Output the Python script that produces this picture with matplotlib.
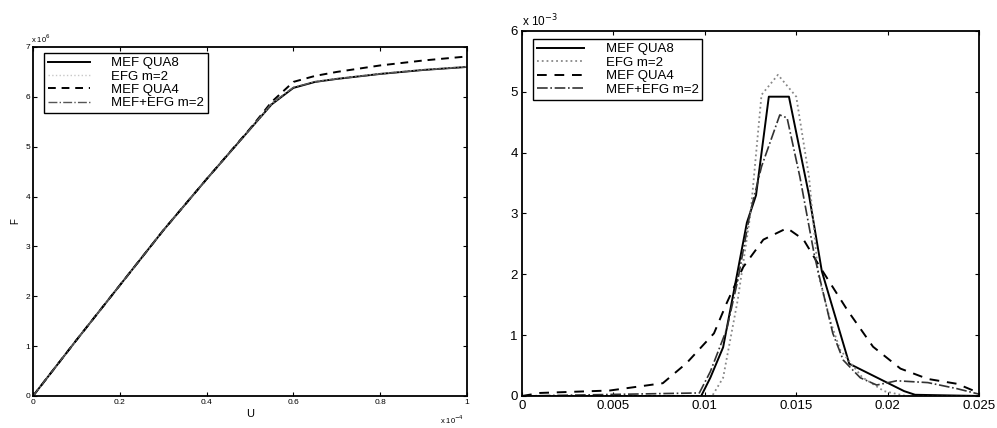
import matplotlib
matplotlib.use('Agg')
import matplotlib.pyplot as plt
import numpy as np

plt.rcParams['font.family'] = ['Liberation Sans', 'DejaVu Sans']

# left panel: force F (x1e6) vs displacement U (x1e-4)
u_left = [0, 0.1, 0.2, 0.3, 0.4, 0.5, 0.55, 0.6, 0.65, 0.7, 0.8, 0.9, 1.0]
f_qua8 = [0, 1.12, 2.22, 3.32, 4.35, 5.35, 5.85, 6.18, 6.30, 6.36, 6.46, 6.54, 6.60]
f_efg = [0, 1.12, 2.22, 3.32, 4.35, 5.35, 5.86, 6.20, 6.31, 6.37, 6.47, 6.55, 6.61]
f_qua4 = [0, 1.12, 2.22, 3.32, 4.35, 5.36, 5.90, 6.30, 6.42, 6.50, 6.63, 6.73, 6.81]
f_mix = [0, 1.12, 2.22, 3.32, 4.35, 5.35, 5.87, 6.19, 6.30, 6.36, 6.46, 6.54, 6.60]

# right panel: distributions (x1e-3)
x_qua8 = [0, 0.0098, 0.0103, 0.0110, 0.0117, 0.0123, 0.0128, 0.0135, 0.0146, 0.0157,
          0.0164, 0.0179, 0.0209, 0.0215, 0.025]
v_qua8 = [0, 0, 0.30, 0.80, 1.90, 2.85, 3.30, 4.92, 4.92, 3.30, 2.05, 0.53, 0.08, 0.02, 0]

x_efg = [0, 0.0104, 0.0110, 0.0118, 0.0125, 0.0131, 0.0140, 0.0150, 0.0157, 0.0162,
         0.0169, 0.0174, 0.0186, 0.0198, 0.0210, 0.025]
v_efg = [0, 0, 0.30, 1.58, 3.00, 4.95, 5.28, 4.92, 3.60, 2.00, 1.20, 0.76, 0.31, 0.08, 0, 0]

x_qua4 = [0, 0.0010, 0.0048, 0.0077, 0.0090, 0.0105, 0.0112, 0.0121, 0.0132, 0.0145,
          0.0154, 0.0163, 0.0178, 0.0192, 0.0207, 0.0222, 0.0238, 0.025]
v_qua4 = [0, 0.05, 0.09, 0.21, 0.54, 1.03, 1.53, 2.12, 2.57, 2.76, 2.57, 2.12, 1.41,
          0.81, 0.45, 0.28, 0.20, 0.05]

x_mix = [0, 0.0097, 0.0103, 0.0112, 0.0118, 0.01247, 0.0131, 0.0141, 0.0145, 0.0152,
         0.0160, 0.0170, 0.01757, 0.0185, 0.0194, 0.0205, 0.0222, 0.0238, 0.025]
v_mix = [0, 0.05, 0.40, 1.10, 1.90, 3.00, 3.77, 4.62, 4.57, 3.60, 2.30, 1.03, 0.59,
         0.30, 0.18, 0.25, 0.22, 0.12, 0.03]

labels = ['MEF QUA8', 'EFG m=2', 'MEF QUA4', 'MEF+EFG m=2']

fig = plt.figure(figsize=(9.97, 4.28), dpi=100)
ax1 = fig.add_axes([0.0331, 0.0748, 0.4353, 0.8154])
ax2 = fig.add_axes([0.5236, 0.0748, 0.4584, 0.8528])

ax1.plot(u_left, f_qua8, color='black', lw=1.4, label=labels[0])
ax1.plot(u_left, f_efg, color='#c8c8c8', lw=1.0, ls=':', label=labels[1])
ax1.plot(u_left, f_qua4, color='black', lw=1.4, ls=(0, (4, 3)), label=labels[2])
ax1.plot(u_left, f_mix, color='#555555', lw=1.0, ls='-.', label=labels[3])
ax1.set_xlim(0, 1)
ax1.set_ylim(0, 7)
ax1.set_xticks([0, 0.2, 0.4, 0.6, 0.8, 1])
ax1.set_xticklabels(['0', '0.2', '0.4', '0.6', '0.8', '1'])
ax1.set_yticks(range(8))
ax1.tick_params(direction='in', top=True, right=True, labelsize=6, length=3, pad=2)
ax1.set_xlabel('U', fontsize=8, labelpad=2)
ax1.set_ylabel('F', fontsize=7, labelpad=4)
ax1.text(-0.005, 1.005, r'x 10$^6$', transform=ax1.transAxes, fontsize=5.5, ha='left', va='bottom')
ax1.text(0.965, -0.068, r'x 10$^{-4}$', transform=ax1.transAxes, fontsize=5.5, ha='center', va='center')
leg1 = ax1.legend(loc='upper left', bbox_to_anchor=(0.025, 0.982), fontsize=9.5, handlelength=3.2,
                  handletextpad=1.6, labelspacing=0.08, borderpad=0.3, fancybox=False,
                  framealpha=1, edgecolor='black', borderaxespad=0)
leg1.get_frame().set_linewidth(1.0)

ax2.plot(x_qua8, v_qua8, color='black', lw=1.4, label=labels[0])
ax2.plot(x_efg, v_efg, color='#888888', lw=1.3, ls=':', label=labels[1])
ax2.plot(x_qua4, v_qua4, color='black', lw=1.4, ls=(0, (5, 4)), label=labels[2])
ax2.plot(x_mix, v_mix, color='#333333', lw=1.2, ls='-.', label=labels[3])
ax2.set_xlim(0, 0.025)
ax2.set_ylim(0, 6)
ax2.set_xticks([0, 0.005, 0.01, 0.015, 0.02, 0.025])
ax2.set_xticklabels(['0', '0.005', '0.01', '0.015', '0.02', '0.025'])
ax2.set_yticks(range(7))
ax2.tick_params(direction='in', top=True, right=True, labelsize=9.5, length=3, pad=3)
ax2.text(0.0, 1.005, r'x 10$^{-3}$', transform=ax2.transAxes, fontsize=8.5, ha='left', va='bottom')
leg2 = ax2.legend(loc='upper left', bbox_to_anchor=(0.024, 0.978), fontsize=9.5, handlelength=3.6,
                  handletextpad=1.6, labelspacing=0.1, borderpad=0.3, fancybox=False,
                  framealpha=1, edgecolor='black', borderaxespad=0)
leg2.get_frame().set_linewidth(1.0)

for ax in (ax1, ax2):
    for s in ax.spines.values():
        s.set_linewidth(1.3)

fig.savefig('out.png', dpi=100)
